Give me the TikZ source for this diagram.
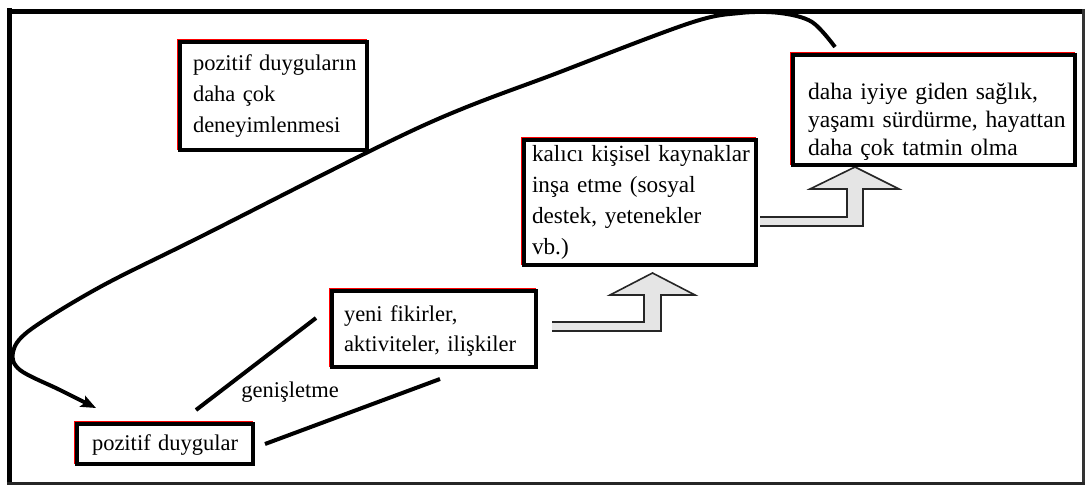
\documentclass[tikz,border=0pt]{standalone}
\usepackage{fontspec}
\setmainfont{Liberation Serif}
\usetikzlibrary{arrows.meta,calc}
\pgfdeclarelayer{background}
\pgfsetlayers{background,main}
% height of the first text line of a box, and depth of its last one
\newcommand\firstgap[1]{\rule{0pt}{#1pt}}
\newcommand\lastgap{\rule[-5pt]{0pt}{5pt}}
% left indent of one text line
\newcommand\ind[1]{\hspace*{#1pt}}
\begin{document}
\begin{tikzpicture}[x=1pt,y=-1pt,
  box/.style={draw=black, line width=4pt, fill=white, rectangle, inner sep=0pt,
    align=left, font=\fontsize{22.5}{30}\selectfont,
    preaction={draw=red, line width=3pt, transform canvas={xshift=-2pt,yshift=1.5pt}}},
  link/.style={line width=4pt},
  blockfill/.style={fill=black!10, draw=none},
  blockedge/.style={draw=black!85, line width=1.6pt, line join=miter}
]
\useasboundingbox (0,0) rectangle (1085,487);

% boxes
\node[box, minimum width=187pt, minimum height=108pt, text width=187pt,
      font=\fontsize{22.5}{31}\selectfont] (n1) at (273.5,96)
  {\firstgap{14}\ind{13}pozitif duyguların\\\ind{13}daha çok\\\ind{13}deneyimlenmesi\lastgap};
\node[box, minimum width=232pt, minimum height=125pt, text width=232pt,
      font=\fontsize{23.2}{31}\selectfont] (n2) at (640,202.5)
  {\firstgap{16}\ind{8}kalıcı kişisel kaynaklar\\\ind{8}inşa etme (sosyal\\\ind{8}destek, yetenekler\\\ind{8}vb.)\lastgap};
\node[box, minimum width=282pt, minimum height=110pt, text width=282pt,
      font=\fontsize{23.6}{28}\selectfont] (n3) at (934,110)
  {\firstgap{41}\ind{15}daha iyiye giden sağlık,\\\ind{15}yaşamı sürdürme, hayattan\\\ind{15}daha çok tatmin olma\lastgap};
\node[box, minimum width=204pt, minimum height=76pt, text width=204pt] (n4) at (434,329)
  {\firstgap{19}\ind{12}yeni fikirler,\\\ind{12}aktiviteler, ilişkiler\lastgap};
\node[box, minimum width=176pt, minimum height=40pt, text width=176pt] (n5) at (165,444)
  {\firstgap{17}\ind{15}pozitif duygular\lastgap};

\node[font=\fontsize{22.5}{30}\selectfont, anchor=base, inner sep=0pt] (lbl) at (290,397) {genişletme};

\begin{pgfonlayer}{background}
  \fill[white] (0,0) rectangle (1085,487);

  % broadening lines from the positive emotions
  \draw[link] ($(n5.north west)+(121,-12)$) -- ($(n4.west)+(-14,-11)$);
  \draw[link] ($(n5.east)+(10,0)$) -- ($(n4.south west)+(110,10)$);

  % bent block arrows
  \coordinate (ba1) at ($(n4.east)+(14,-7)$);
  \fill[blockfill] (ba1) -- ++(92,0) -- ++(0,-27) -- ++(-34,0) -- ++(42.5,-22)
    -- ++(42.5,22) -- ++(-34,0) -- ++(0,36) -- ++(-109,0) -- cycle;
  \draw[blockedge] (ba1) -- ++(92,0) -- ++(0,-27) -- ++(-34,0) -- ++(42.5,-22)
    -- ++(42.5,22) -- ++(-34,0) -- ++(0,36) -- ++(-109,0);

  \coordinate (ba2) at ($(n2.east)+(2,14.5)$);
  \fill[blockfill] (ba2) -- ++(87,0) -- ++(0,-28) -- ++(-37,0) -- ++(45,-22)
    -- ++(44,22) -- ++(-36,0) -- ++(0,37) -- ++(-103,0) -- cycle;
  \draw[blockedge] (ba2) -- ++(87,0) -- ++(0,-28) -- ++(-37,0) -- ++(45,-22)
    -- ++(44,22) -- ++(-36,0) -- ++(0,37) -- ++(-103,0);

  % feedback loop back to the positive emotions
  \coordinate (loopA) at ($(n3.north west)+(44,-6)$);
  \coordinate (loopZ) at ($(n5.north west)+(21,-14)$);
  \draw[link, -{Stealth[length=15pt,width=12pt,inset=3pt]}]
    plot[smooth, tension=0.55] coordinates {(loopA) (812,22) (780,13) (740,13) (690,23)
      (560,72) (420,127) (200,237) (100,287) (30,330) (13,352) (20,370) (60,390) (loopZ)};
\end{pgfonlayer}

% frame
\draw[line width=5pt] (9.5,8) -- (9.5,485);
\draw[line width=5pt] (7,11.5) -- (1085,11.5);
\draw[line width=2.5pt, black!80] (1083.5,9) -- (1083.5,485);
\draw[line width=3pt, black!85] (7,483.5) -- (1085,483.5);
\end{tikzpicture}
\end{document}
